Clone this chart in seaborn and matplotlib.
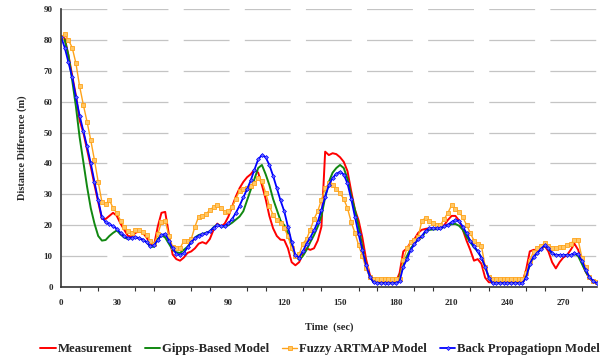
import numpy as np
import pandas as pd
import matplotlib
matplotlib.use("Agg")
import matplotlib.pyplot as plt
import seaborn as sns

# time axis, one reading every 2 s
time_sec = np.arange(0, 290, 2)

measurement = [
    81, 80.5, 75, 68.5, 62, 54, 50, 44.5, 39, 33,
    27.5, 22, 22, 23, 24, 23, 20.5, 18.5, 16.5, 16.3,
    17.5, 18, 17.5, 16, 14, 13.5, 19.5, 24, 24.3, 17,
    10.5, 9, 8.5, 9.5, 11, 11.5, 12.5, 14, 14.5, 14,
    15.5, 18.5, 20.5, 19.5, 20.5, 22.8, 26, 29.3, 32, 34,
    35.5, 36.5, 38, 37, 33, 28.5, 23, 19, 16.5, 15.3,
    15.2, 12.5, 8, 7, 8, 10.5, 12.5, 12, 12.5, 15,
    19.5, 43.8, 42.7, 43.3, 43, 42, 40.5, 37.5, 31, 25,
    21.5, 16, 9, 4, 1.5, 1.5, 1.5, 1.5, 1.5, 1.5,
    1.5, 4.5, 11.5, 12.5, 14.5, 15.5, 17.5, 18.5, 18.8, 19,
    19, 18.8, 18.8, 20, 21.7, 23, 23, 21.5, 18.5, 15,
    12, 8.5, 9, 7.5, 3, 1.5, 1.5, 1.5, 1.5, 1.5,
    1.5, 1.5, 1.5, 1.5, 1.5, 5.5, 11.5, 12, 12, 12,
    13.3, 11.5, 8, 6, 8, 9.5, 10.3, 12, 14, 12,
    8, 5, 2.8, 1.8, 1,
]

gipps = [
    81, 80, 75, 67, 58.5, 48.5, 40.5, 32.5, 25.5, 20.5,
    16.5, 15, 15.2, 16.5, 17.5, 18.3, 17, 16, 15.5, 15.8,
    16, 15.8, 15.3, 14.5, 13, 13, 15.5, 16.8, 16, 14,
    12, 11.2, 11, 12, 13, 14.5, 16, 16.8, 17.2, 17.5,
    18, 19.3, 20.2, 19.7, 19.5, 20, 20.8, 21.8, 22.8, 24.5,
    28, 31.5, 35, 38.5, 39.5, 36.5, 33, 28.5, 25, 21.5,
    20, 17.5, 13, 10, 8.8, 10, 12, 14.5, 16.8, 19.5,
    23, 29, 34, 37, 38.5, 39.5, 38.5, 35, 29.5, 25,
    19.5, 13, 7, 3.3, 1.5, 1.2, 1.2, 1.2, 1.2, 1.2,
    1.2, 3.3, 7.7, 10, 12.5, 14, 15.5, 16, 18, 18.5,
    18.6, 18.7, 18.8, 19.5, 20, 20.3, 20.4, 19.8, 18.5, 16.3,
    14.5, 12.8, 11.5, 9.5, 6.6, 3, 1.2, 1.2, 1.2, 1.2,
    1.2, 1.2, 1.2, 1.2, 1.2, 3.5, 7, 9.5, 11, 12.2,
    13.3, 12.3, 10.8, 10.3, 10.3, 10.3, 10.3, 10.3, 10.8, 10,
    7.5, 5, 3, 1.8, 1,
]

fuzzy_artmap = [
    81, 81.8, 80, 77.5, 72.5, 65, 59, 53.5, 47.5, 41,
    34, 27.5, 26.8, 28.2, 25.5, 24, 21.5, 19.3, 18, 17.6,
    18.3, 18.5, 17.8, 16.8, 15, 13.8, 17, 21, 21.5, 16.5,
    13, 12.5, 12.6, 14.8, 15, 15.5, 19.5, 22.8, 23, 23.5,
    25, 25.8, 26.5, 25.5, 24.3, 24.5, 26, 28.5, 31.2, 31.7,
    32, 32.8, 33.6, 35.2, 34.3, 30.5, 26.3, 23.3, 21.7, 20.8,
    19, 16.5, 12.5, 10, 10.5, 14, 15.5, 18.5, 22, 24.5,
    28.2, 31.9, 33.5, 33, 31.8, 30.3, 28.5, 25.5, 21, 17.5,
    13.5, 10, 6, 3.3, 2.5, 2.5, 2.5, 2.5, 2.5, 2.5,
    2.5, 2.5, 8.7, 12.5, 14.5, 15.3, 16.2, 21.5, 22.3, 21.3,
    20.6, 20.2, 20.1, 22, 24, 26.5, 25.2, 24.3, 22.5, 20.1,
    17.5, 15, 13.8, 13.3, 6.6, 3.3, 2.5, 2.5, 2.5, 2.5,
    2.5, 2.5, 2.5, 2.5, 2.5, 4.5, 8.5, 11.4, 12.5, 13.3,
    14.1, 13.2, 12.6, 12.5, 12.8, 13, 13.5, 14, 15.2, 15.3,
    9.5, 6.5, 3.3, 1.8, 1.5,
]

back_prop = [
    81, 77.5, 72.8, 68, 61.5, 55.5, 50.5, 45.5, 40, 34,
    28, 22.5, 21, 20.3, 19.7, 18.8, 17.5, 16.5, 15.8, 16,
    16.1, 15.8, 15.3, 14.5, 13.2, 13.5, 15.2, 16.8, 17.2, 15,
    12.5, 10.7, 10.4, 11, 12.8, 14.5, 15.7, 16.6, 17, 17.4,
    18, 19.2, 20.1, 19.6, 19.8, 20.6, 22, 24, 26.3, 29,
    31.6, 34.5, 38, 41.3, 42.7, 42, 39.5, 36, 32, 28,
    24.5, 19.5, 14.5, 10.3, 9.5, 11.5, 14, 16, 18.3, 21,
    25, 29.2, 33, 35.3, 36.6, 37.3, 36.4, 33.5, 28.5, 22.8,
    17, 12, 7, 3.3, 1.5, 1.2, 1.2, 1.2, 1.2, 1.2,
    1.2, 1.8, 6.6, 9, 12, 13.8, 15.5, 16.5, 18.2, 19,
    19, 19, 19.1, 19.7, 20.2, 21, 21.7, 21.3, 19.5, 17.4,
    15, 13.2, 11.6, 9.5, 6.6, 3, 1.2, 1.2, 1.2, 1.2,
    1.2, 1.2, 1.2, 1.2, 1.2, 3, 7.5, 9.8, 11, 12.3,
    13.5, 12.5, 11, 10.3, 10.3, 10.3, 10.3, 10.3, 10.9, 10.5,
    8.5, 5.5, 3.3, 2, 1.2,
]

series_names = ["Measurement", "Gipps-Based Model", "Fuzzy ARTMAP Model",
                "Back Propagatiopn Model"]
x_ticks = [0, 30, 60, 90, 120, 150, 180, 210, 240, 270]
y_ticks = [0, 10, 20, 30, 40, 50, 60, 70, 80, 90]

sns.set_style("white")
plt.rcParams['font.family'] = ['Liberation Serif', 'DejaVu Serif']
plt.rcParams['font.weight'] = 'bold'
plt.rcParams['lines.scale_dashes'] = False

fig, ax = plt.subplots(figsize=(6.04, 3.6), dpi=100)
fig.subplots_adjust(left=0.101, right=0.988, bottom=0.203, top=0.975)

sns.lineplot(x=time_sec, y=measurement, ax=ax, color='#ff0000', lw=1.4,
             label=series_names[0])
sns.lineplot(x=time_sec, y=gipps, ax=ax, color='#118811', lw=1.4,
             label=series_names[1])
sns.lineplot(x=time_sec, y=fuzzy_artmap, ax=ax, color='#ffa31a', lw=1.0,
             marker='s', markersize=2.4, markerfacecolor='#ffc766',
             markeredgecolor='#ffa31a', markeredgewidth=0.6,
             label=series_names[2])
sns.lineplot(x=time_sec, y=back_prop, ax=ax, color='#0000ff', lw=1.3,
             marker='D', markersize=2.0, markerfacecolor='#6a6aff',
             markeredgecolor='#0000ff', markeredgewidth=0.5,
             label=series_names[3])

ax.set_xlim(0, 288)
ax.set_ylim(0, 90)
ax.set_xticks(x_ticks)
ax.set_xticks(np.arange(0, 290, 10), minor=True)
ax.set_yticks(y_ticks)
ax.tick_params(axis='both', which='both', direction='out', length=3,
               width=0.8, color='#333333', labelsize=6.5, pad=6)
ax.tick_params(axis='y', pad=3)
ax.tick_params(axis='x', which='minor', bottom=True)

ax.yaxis.grid(True, color='#c4c4c4', lw=0.9, linestyle=(0, (33, 11)))
ax.set_axisbelow(True)
for side in ['top', 'right']:
    ax.spines[side].set_visible(False)
for side in ['left', 'bottom']:
    ax.spines[side].set_color('#333333')
    ax.spines[side].set_linewidth(1.2)

ax.set_xlabel("Time  (sec)", fontsize=7.5, fontweight='bold', labelpad=11)
ax.set_ylabel("Distance Difference (m)", fontsize=7.5, fontweight='bold', labelpad=12)

handles, labels = ax.get_legend_handles_labels()
ax.get_legend().remove()
fig.legend(handles, labels, loc='center', bbox_to_anchor=(0.53, 0.03), ncol=4,
           frameon=False, fontsize=9.2, handlelength=1.2, handletextpad=0.15,
           columnspacing=1.0, borderaxespad=0, borderpad=0)

plt.savefig("out.png", dpi=100)
